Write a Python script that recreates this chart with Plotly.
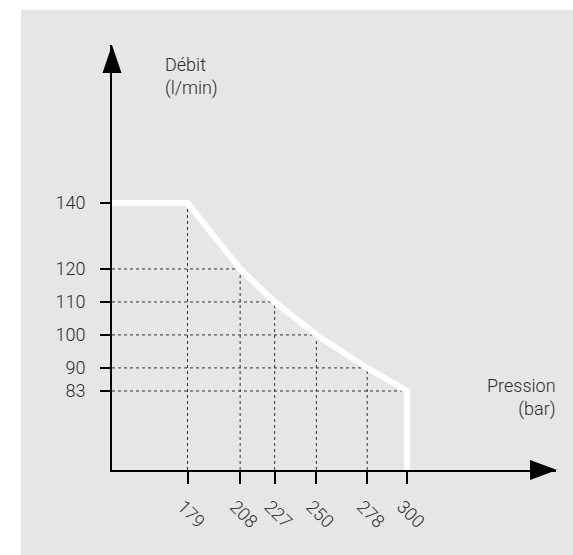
import plotly.graph_objects as go

# Data
pression = [179, 208, 227, 250, 278, 300]   # bar
debit = [140, 120, 110, 100, 90, 83]        # l/min

x_labels = [str(v) for v in pression]
y_labels = [str(v) for v in debit]

# Axis extents (value at axis origin / arrow tips)
X_MIN, X_MAX = 137.4, 382.0
Y_MIN, Y_MAX = 59.05, 187.9

BG = "#e6e6e6"
INK = "#2b2b2b"
FONT = "Roboto"

fig = go.Figure()

# dotted guide lines
for px, dy in zip(pression, debit):
    fig.add_trace(go.Scatter(x=[X_MIN, px], y=[dy, dy], mode="lines",
                             line=dict(color="#333333", width=1, dash="dot"),
                             hoverinfo="skip", showlegend=False))
    fig.add_trace(go.Scatter(x=[px, px], y=[Y_MIN, dy], mode="lines",
                             line=dict(color="#333333", width=1, dash="dot"),
                             hoverinfo="skip", showlegend=False))

# main curve
cx = [X_MIN] + pression + [pression[-1]]
cy = [debit[0]] + debit + [Y_MIN]
fig.add_trace(go.Scatter(x=cx, y=cy, mode="lines",
                         line=dict(color="white", width=6),
                         cliponaxis=False, hoverinfo="skip", showlegend=False))

W, H = 573, 555
# plot area in page pixels
PL, PR, PT, PB = 112, 556, 45, 470
L, T = PL, PT
R, B = W - PR, H - PB
pw, ph = PR - PL, PB - PT

def X(p):  # page px -> paper x
    return (p - PL) / pw

def Y(p):  # page py -> paper y
    return (PB - p) / ph

shapes = [
    # white margins (top & left) of the frame
    dict(type="rect", xref="paper", yref="paper",
         x0=X(0), x1=X(W), y0=Y(10), y1=Y(0),
         fillcolor="white", line_width=0, layer="below"),
    dict(type="rect", xref="paper", yref="paper",
         x0=X(0), x1=X(21), y0=Y(H), y1=Y(0),
         fillcolor="white", line_width=0, layer="below"),
    # arrow heads
    dict(type="path", xref="paper", yref="paper",
         path=f"M {X(102.5)} {Y(73)} L {X(112)} {Y(45)} L {X(121.5)} {Y(73)} Z",
         fillcolor="black", line_width=0),
    dict(type="path", xref="paper", yref="paper",
         path=f"M {X(530)} {Y(460)} L {X(557)} {Y(470)} L {X(530)} {Y(480)} Z",
         fillcolor="black", line_width=0),
]

annotations = [
    dict(text="Débit<br>(l/min)", xref="paper", yref="paper",
         x=X(163), y=Y(52), xanchor="left", yanchor="top",
         align="left", showarrow=False, font=dict(family=FONT, size=18, color=INK, weight=300)),
    dict(text="Pression<br>(bar)", xref="paper", yref="paper",
         x=X(558), y=Y(373), xanchor="right", yanchor="top",
         align="right", showarrow=False, font=dict(family=FONT, size=18, color=INK, weight=300)),
]

fig.update_layout(
    width=W, height=H,
    margin=dict(l=L, r=R, t=T, b=B, pad=0),
    paper_bgcolor=BG, plot_bgcolor=BG,
    shapes=shapes, annotations=annotations,
    font=dict(family=FONT, size=18, color=INK, weight=300),
    xaxis=dict(range=[X_MIN, X_MAX], showgrid=False, zeroline=False,
               showline=True, linecolor="black", linewidth=2,
               ticks="outside", ticklen=12, tickwidth=2, tickcolor="black",
               tickmode="array", tickvals=pression, ticktext=x_labels,
               tickangle=45, ticklabelstandoff=5, ticklabelshift=-5,
               tickfont=dict(family=FONT, size=18, color=INK, weight=300)),
    yaxis=dict(range=[Y_MIN, Y_MAX], showgrid=False, zeroline=False,
               showline=True, linecolor="black", linewidth=2,
               ticks="outside", ticklen=10, tickwidth=2, tickcolor="black",
               tickmode="array", tickvals=debit, ticktext=y_labels,
               ticklabelstandoff=11,
               tickfont=dict(family=FONT, size=18, color=INK, weight=300)),
)

fig.write_html(
    "out.html",
    config={"displayModeBar": False, "staticPlot": True},
    post_script=(
        "document.documentElement.style.margin='0';"
        "document.body.style.margin='0';document.body.style.padding='0';"
        "document.documentElement.style.overflow='hidden';"
        "document.documentElement.style.background='#e6e6e6';"
        "document.body.style.background='#e6e6e6';"
    ),
)
